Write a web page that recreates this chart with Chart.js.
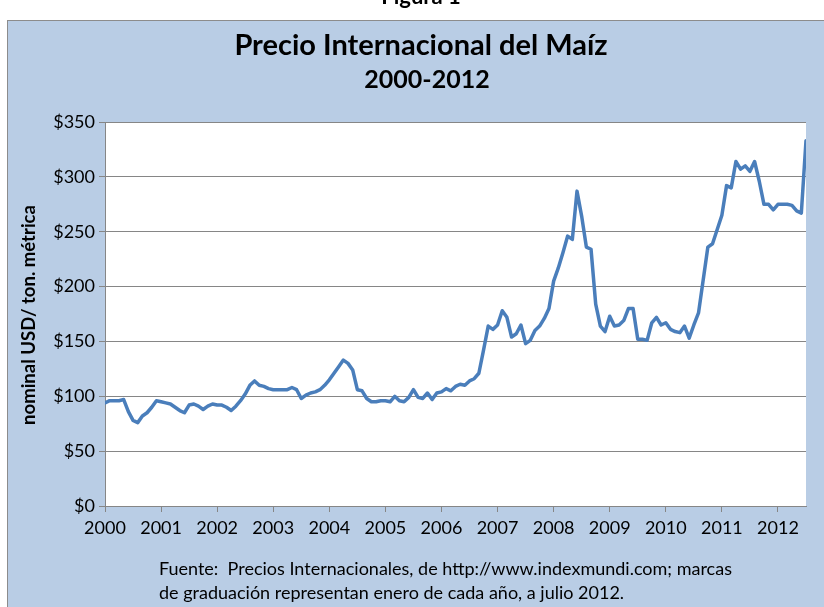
<!DOCTYPE html>
<html>
<head>
<meta charset="utf-8">
<script src="https://cdn.jsdelivr.net/npm/chart.js@4.4.0/dist/chart.umd.min.js"></script>
<style>
  html, body { margin: 0; padding: 0; background: #fff; }
  #chart { display: block; }
</style>
</head>
<body>
<canvas id="chart" width="824" height="607"></canvas>
<script>
// precio mensual del maíz (USD / ton. métrica), enero 2000 - julio 2012
const p2000 = [94, 96, 96, 96, 97, 86, 78, 76, 82, 85, 90, 96];
const p2001 = [95, 94, 93, 90, 87, 85, 92, 93, 91, 88, 91, 93];
const p2002 = [92, 92, 90, 87, 91, 96, 102, 110, 114, 110, 109, 107];
const p2003 = [106, 106, 106, 106, 108, 106, 98, 101, 103, 104, 106, 110];
const p2004 = [115, 121, 127, 133, 130, 124, 106, 105, 98, 95, 95, 96];
const p2005 = [96, 95, 100, 96, 95, 99, 106, 99, 98, 103, 97, 103];
const p2006 = [104, 107, 105, 109, 111, 110, 114, 116, 121, 142, 164, 161];
const p2007 = [165, 178, 172, 154, 157, 165, 148, 151, 160, 164, 171, 180];
const p2008 = [205, 217, 231, 246, 243, 287, 264, 236, 234, 184, 164, 159];
const p2009 = [173, 164, 165, 169, 180, 180, 152, 152, 151, 167, 172, 165];
const p2010 = [167, 161, 159, 158, 164, 153, 165, 176, 206, 236, 239, 252];
const p2011 = [265, 292, 290, 314, 307, 310, 305, 314, 296, 275, 275, 270];
const p2012 = [275, 275, 275, 274, 269, 267, 333];

const years = ["2000", "2001", "2002", "2003", "2004", "2005", "2006",
               "2007", "2008", "2009", "2010", "2011", "2012"];
const yTicks = [0, 50, 100, 150, 200, 250, 300, 350];

const titleLines = ["Precio Internacional del Maíz", "2000-2012"];
const yTitle = "nominal USD/ ton. métrica";
const note = ["Fuente:  Precios Internacionales, de http://www.indexmundi.com; marcas",
              "de graduación representan enero de cada año, a julio 2012."];

const prices = [].concat(p2000, p2001, p2002, p2003, p2004, p2005, p2006,
                         p2007, p2008, p2009, p2010, p2011, p2012);
const points = prices.map((v, i) => ({ x: i, y: v }));

const FONT = "Lato, 'Open Sans', sans-serif";
const blue = "#4A7EBB";
const grid = "#868686";

// fondo azul, marco y textos fuera del área de trazado
const panel = {
  id: "panel",
  beforeDraw(chart) {
    const { ctx, chartArea: a } = chart;
    ctx.save();
    ctx.fillStyle = "#fff";
    ctx.fillRect(0, 0, chart.width, chart.height);
    ctx.fillStyle = "#000";
    ctx.font = "bold 22px " + FONT;
    ctx.textAlign = "center";
    ctx.textBaseline = "alphabetic";
    ctx.fillText("Figura 1", 421, 4);
    ctx.fillStyle = "#B9CDE5";
    ctx.fillRect(7.5, 20.5, 830, 600);
    ctx.strokeStyle = "#8C8C8C";
    ctx.lineWidth = 1;
    ctx.strokeRect(7.5, 20.5, 830, 600);
    ctx.fillStyle = "#fff";
    ctx.fillRect(a.left, a.top, a.right - a.left, a.bottom - a.top);
    ctx.restore();
  },
  afterDraw(chart) {
    const { ctx } = chart;
    ctx.save();
    ctx.fillStyle = "#000";
    ctx.textAlign = "center";
    ctx.textBaseline = "middle";
    ctx.font = "bold 29px " + FONT;
    ctx.fillText(titleLines[0], 421, 46);
    ctx.font = "bold 25px " + FONT;
    ctx.fillText(titleLines[1], 427, 80);

    ctx.save();
    ctx.translate(29, 315);
    ctx.rotate(-Math.PI / 2);
    ctx.font = "bold 18.5px " + FONT;
    ctx.fillText(yTitle, 0, 0);
    ctx.restore();

    ctx.textAlign = "left";
    ctx.font = "18px " + FONT;
    ctx.fillText(note[0], 159, 569);
    ctx.fillText(note[1], 159, 593);
    ctx.restore();
  }
};

new Chart(document.getElementById("chart").getContext("2d"), {
  type: "line",
  data: {
    datasets: [{
      label: "Maíz",
      data: points,
      borderColor: blue,
      borderWidth: 3.5,
      pointRadius: 0,
      tension: 0,
      borderJoinStyle: "round",
      borderCapStyle: "round",
    }],
  },
  options: {
    responsive: false,
    animation: false,
    devicePixelRatio: 1,
    layout: { padding: { left: 0, right: 18, top: 122, bottom: 61 } },
    plugins: { legend: { display: false }, tooltip: { enabled: false } },
    scales: {
      x: {
        type: "linear",
        min: 0,
        max: prices.length - 1,
        afterBuildTicks: (axis) => {
          axis.ticks = years.map((y, k) => ({ value: k * 12 }));
        },
        afterFit: (axis) => { axis.height = 40; },
        ticks: {
          autoSkip: false,
          maxRotation: 0,
          padding: 5,
          color: "#000",
          font: { family: FONT, size: 18 },
          callback: (v) => years[v / 12],
        },
        grid: { drawOnChartArea: false, drawTicks: true, tickLength: 6, color: grid },
        border: { color: grid },
      },
      y: {
        min: 0,
        max: 350,
        afterBuildTicks: (axis) => {
          axis.ticks = yTicks.map((v) => ({ value: v }));
        },
        afterFit: (axis) => { axis.width = 105; },
        ticks: {
          padding: 4,
          color: "#000",
          font: { family: FONT, size: 18 },
          callback: (v) => "$" + v,
        },
        grid: { color: grid, tickLength: 6 },
        border: { color: grid },
      },
    },
  },
  plugins: [panel],
});
</script>
</body>
</html>
